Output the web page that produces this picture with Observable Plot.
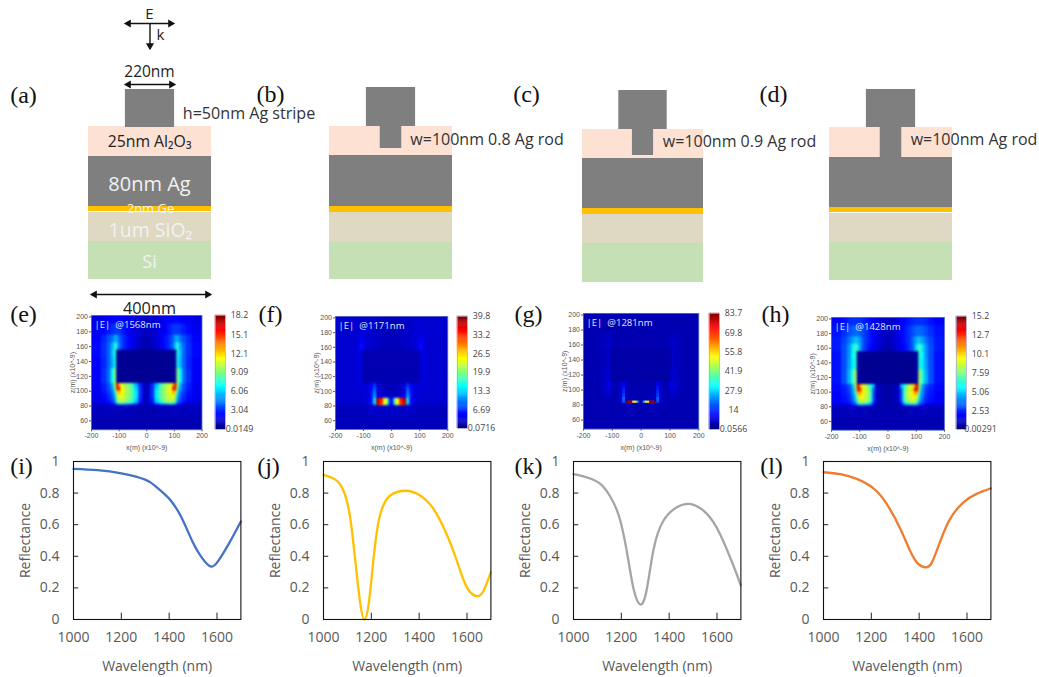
<!DOCTYPE html>
<html><head><meta charset="utf-8">
<script src="https://cdn.jsdelivr.net/npm/d3@7"></script>
<script src="https://cdn.jsdelivr.net/npm/@observablehq/plot@0.6"></script>
<style>html,body{margin:0;background:#fff}#c{position:relative;width:1039px;height:677px;overflow:hidden}svg{position:absolute;overflow:visible;background:transparent}</style>
</head><body><div id="c"></div>
<script>
// ---- reflectance spectra (wavelength nm, reflectance)
const wlI=[1000,1100,1200,1300,1350,1400,1450,1500,1535,1569,1600,1650,1700];
const rI=[.953,.945,.925,.885,.835,.765,.65,.485,.395,.338,.36,.48,.62];
const wlJ=[1000,1050,1085,1111,1132,1153,1171,1190,1209,1230,1251,1279,1342,1404,1460,1515,1557,1599,1641,1669,1700];
const rJ=[.915,.885,.81,.65,.385,.11,0,.11,.38,.62,.725,.785,.815,.785,.70,.54,.375,.205,.148,.18,.30];
const wlK=[1000,1056,1111,1153,1195,1230,1251,1279,1307,1335,1376,1432,1492,1557,1613,1669,1700];
const rK=[.92,.90,.86,.78,.63,.37,.195,.095,.195,.445,.625,.71,.73,.67,.54,.34,.215];
const wlL=[1000,1070,1139,1209,1265,1321,1362,1397,1428,1453,1487,1529,1584,1640,1700];
const rL=[.932,.92,.89,.83,.73,.575,.435,.35,.33,.36,.49,.635,.74,.795,.83];
const wlTicks=[1000,1200,1400,1600];
const rTicks=[0,.2,.4,.6,.8,1];

// ---- |E| field, percent of colour-bar span.
// Columns are |x| bands (maps are mirror-symmetric), rows are z bands, top to bottom.
const xEdges=[0,8,15,30,45,55,65,75,85,95,103,110,118,130,145,165,200];
const zEdges=[202,190,175,165,155,145,130,110,105,100,95,90,85,82,80,65,48];
const fieldE=[
[7,7,8,9,10,10,11,12,12,13,13,13,12,12,11,10],
[6,6,8,9,10,11,12,14,16,18,18,18,17,15,13,11],
[5,5,7,9,11,12,14,16,19,23,28,30,24,20,16,12],
[5,5,6,8,10,12,14,16,19,24,34,42,30,22,17,13],
[2,2,2,2,2,2,2,2,2,2,3,42,32,22,17,13],
[2,2,2,2,2,2,2,2,2,2,3,40,30,22,16,12],
[2,2,2,2,2,2,2,2,2,2,4,52,38,23,17,12],
[6,8,16,30,42,48,52,56,60,72,96,58,30,20,15,11],
[6,8,17,34,44,50,54,58,62,88,85,50,28,20,15,11],
[6,8,17,36,45,50,54,58,62,70,66,38,24,18,14,11],
[6,8,17,36,45,50,54,57,60,62,54,32,22,16,13,11],
[6,8,15,34,43,48,52,55,57,57,48,28,20,15,12,10],
[6,7,13,28,36,42,46,48,50,48,40,22,16,12,10,9],
[5,6,8,12,16,18,20,22,24,22,18,12,10,9,8,8],
[5,5,5,5,6,6,6,6,6,6,6,6,6,6,6,6],
[5,5,5,5,5,5,5,5,5,5,5,5,5,5,5,5]];
const fieldF=[
[6,6,6,7,7,7,7,8,8,8,8,8,8,8,8,8],
[6,6,6,7,7,7,8,8,8,9,9,9,8,8,8,8],
[6,6,6,7,7,7,8,8,9,10,11,10,9,8,8,8],
[6,6,6,6,7,7,8,8,9,11,14,11,9,8,8,8],
[5,5,5,5,5,5,5,5,5,5,8,11,9,8,8,8],
[5,5,5,5,5,5,5,5,5,5,8,10,9,8,8,8],
[5,5,5,5,5,5,5,5,5,5,8,9,9,8,8,8],
[6,6,6,7,9,18,12,10,9,9,9,9,8,8,8,8],
[6,6,6,7,10,22,13,10,9,9,9,8,8,8,8,8],
[6,6,7,8,10,26,14,10,9,8,8,8,8,8,8,8],
[7,7,8,9,12,30,15,10,9,8,8,8,8,8,8,8],
[10,36,62,86,96,38,14,10,9,8,8,8,8,8,8,8],
[10,36,62,86,96,38,14,10,9,8,8,8,8,8,8,8],
[9,30,55,80,90,28,11,9,8,7,7,7,7,7,7,7],
[7,7,7,7,7,8,7,7,6,6,6,6,6,6,6,6],
[6,6,6,6,6,6,6,6,6,6,6,6,6,6,6,6]];
const fieldG=[
[5,5,5,5,5,5,5,5,5,5,5,5,5,5,5,5],
[5,5,5,5,5,5,5,5,5,5,5,5,5,5,5,5],
[5,5,5,5,5,5,5,5,5,6,6,7,6,6,5,5],
[5,5,5,5,5,5,5,5,5,6,7,8,7,6,5,5],
[4,4,4,4,4,4,4,4,4,4,5,8,6,6,5,5],
[4,4,4,4,4,4,4,4,4,4,5,8,6,6,5,5],
[4,4,4,4,4,4,4,4,4,4,6,8,7,6,5,5],
[5,5,5,5,5,12,7,5,5,6,10,10,8,6,5,5],
[5,5,5,5,5,14,7,5,5,6,10,9,8,6,5,5],
[5,5,5,5,5,16,8,6,5,5,8,8,7,6,5,5],
[5,5,5,5,6,18,8,6,5,5,7,7,7,6,5,5],
[5,5,6,6,7,22,9,6,5,5,6,6,6,5,5,5],
[6,30,65,96,100,20,8,6,5,5,5,5,5,5,5,5],
[5,7,11,14,14,8,6,5,5,5,5,5,5,5,5,5],
[5,5,5,5,5,6,5,5,5,5,5,5,5,5,5,5],
[5,5,5,5,5,5,5,5,5,5,5,5,5,5,5,5]];
const fieldH=[
[7,7,8,10,12,13,14,15,16,17,17,17,17,16,14,12],
[6,6,8,10,12,14,16,18,20,22,23,23,22,20,17,14],
[6,6,8,10,12,14,16,18,23,28,31,33,28,24,19,15],
[5,5,7,9,11,13,15,18,22,30,38,46,36,27,20,15],
[2,2,2,2,2,2,2,2,2,3,3,42,38,27,20,14],
[2,2,2,2,2,2,2,2,2,3,3,42,36,28,20,14],
[2,2,2,2,2,2,2,2,2,3,5,55,42,30,20,14],
[4,4,5,7,30,40,50,58,64,76,96,58,30,20,16,13],
[4,4,5,7,22,42,52,60,66,90,86,50,28,19,15,13],
[4,4,5,7,20,44,54,60,64,72,68,42,26,18,15,12],
[4,4,5,7,20,44,54,58,62,64,56,36,24,17,14,12],
[4,4,5,7,20,42,52,56,58,58,48,32,22,16,14,12],
[4,4,5,6,14,32,42,46,48,48,38,24,17,13,11,10],
[4,4,4,5,8,14,18,20,22,22,18,14,12,10,9,9],
[5,5,5,5,5,5,5,6,6,6,6,6,6,6,6,6],
[5,5,5,5,5,5,5,5,5,5,5,5,5,5,5,5]];
const barE=["18.2","15.1","12.1","9.09","6.06","3.04","0.0149"];
const barF=["39.8","33.2","26.5","19.9","13.3","6.69","0.0716"];
const barG=["83.7","69.8","55.8","41.9","27.9","14","0.0566"];
const barH=["15.2","12.7","10.1","7.59","5.06","2.53","0.00291"];
const mapTitles=["|E|  @1568nm","|E|  @1171nm","|E|  @1281nm","|E|  @1428nm"];
const mapXTicks=[-200,-100,0,100,200];
const mapZTicks=[60,80,100,120,140,160,180,200];
const jetStops=[0,.125,.375,.625,.875,1];
const jetColors=["#00007f","#0000ff","#00ffff","#ffff00","#ff0000","#7f0000"];

// ---- device stacks: drawn layer heights and drawn widths
const layerNames=["Al2O3","Ag","Ge","gap","SiO2","Si"];
const layerFills=["#fde1d3","#7f7f7f","#ffc000","#ffffff","#dfd8c2","#c5e0b4"];
const stackA=[30,50,5,1,29,38];
const stackB=[29,51,6,0,30,37];
const stackC=[29,50,6,0,29,39];
const stackD=[30,50,5,1,29,38];
const stripeHeights=[37,39,39,38];
const stripeDrawnWidth=160, rodDrawnWidth=70;
const rodDepths=[0,22,26,30];

// ---- text
const tags=["(a)","(b)","(c)","(d)","(e)","(f)","(g)","(h)","(i)","(j)","(k)","(l)"];
const tagX=[23,270,526,773,23,270,528,775,21,268,528,771];
const tagY=[95,94,94,94,314,314,314,314,466,466,466,466];
const noteText=["E","k","220nm","h=50nm Ag stripe","25nm Al₂O₃","80nm Ag","2nm Ge","1um SiO₂","Si","400nm","w=100nm 0.8 Ag rod","w=100nm 0.9 Ag rod","w=100nm Ag rod"];
const noteX=[149,160,149,248.5,149,149,150,150,149,149,486.5,739,973.5];
const noteY=[14,35,72,113,141,184,208,230,262,308,139,141,139];
const noteSize=[15,15,15.5,16.1,15.8,20,13,19.5,18,16.3,16,16,16];
const noteFill=["#222","#222","#222","#333","#222","#f2f2f2","#f2f2f2","#f2f2f2","#f2f2f2","#222","#333","#333","#333"];

const root=document.getElementById("c");
const place=(el,left,top)=>{el.style.position="absolute";el.style.left=left+"px";el.style.top=top+"px";root.appendChild(el);};
const sans='"Open Sans",sans-serif';

// ---------- stacks
function drawStack(left,top,width,layers,rodDepth,stripeH){
  const total=stripeH+d3.sum(layers);
  let y=stripeH;
  const rows=layers.map((h,i)=>{const r={name:layerNames[i],fill:layerFills[i],y1:y,y2:y+h};y+=h;return r;}).filter(r=>r.y2>r.y1);
  const metal=[{x1:-stripeDrawnWidth/2,x2:stripeDrawnWidth/2,y1:0,y2:stripeH+(rodDepth?0:1)}];
  if(rodDepth) metal.push({x1:-rodDrawnWidth/2,x2:rodDrawnWidth/2,y1:stripeH-0.5,y2:stripeH+rodDepth});
  const p=Plot.plot({width,height:total,margin:0,
    x:{domain:[-200,200],axis:null},y:{domain:[total,0],axis:null},
    marks:[
      Plot.rect(rows,{x1:-200,x2:200,y1:"y1",y2:"y2",fill:"fill"}),
      Plot.rect(metal,{x1:"x1",x2:"x2",y1:"y1",y2:"y2",fill:layerFills[1]})
    ]});
  place(p,left,top);
}
drawStack(88,89,123,stackA,rodDepths[0],stripeHeights[0]);
drawStack(329,87,123,stackB,rodDepths[1],stripeHeights[1]);
drawStack(582,90,121,stackC,rodDepths[2],stripeHeights[2]);
drawStack(829,89,123,stackD,rodDepths[3],stripeHeights[3]);

// ---------- field maps
function jetScale(max){return {type:"linear",domain:jetStops.map(t=>t*max),range:jetColors,clamp:true};}
function drawMap(left,top,w,h,field,labels,title,blur){
  const max=+labels[0];
  const cells=[];
  field.forEach((row,r)=>row.forEach((v,c)=>{
    for(const s of [-1,1]){
      const a=s*xEdges[c],b=s*xEdges[c+1];
      cells.push({x1:Math.min(a,b),x2:Math.max(a,b),z1:zEdges[r+1],z2:zEdges[r],v:v/100*max});
    }
  }));
  const mL=30,mB=22,mT=2,mR=8;
  const p=Plot.plot({width:w+mL+mR,height:h+mT+mB,marginLeft:mL,marginRight:mR,marginTop:mT,marginBottom:mB,
    style:{fontFamily:"Liberation Sans,sans-serif",background:"transparent"},
    x:{domain:[-200,200]},y:{domain:[48,202]},color:jetScale(max),
    marks:[
      Plot.frame({fill:"#00109a",stroke:"none"}),
      Plot.rect(cells,{x1:"x1",x2:"x2",y1:"z1",y2:"z2",fill:"v",inset:-0.25,clip:"frame",imageFilter:`blur(${blur}px)`}),
      Plot.frame({stroke:"#5a6fd0",strokeWidth:.8}),
      Plot.axisX({ticks:mapXTicks,tickSize:2,tickPadding:1.5,fontSize:7,color:"#555",tickFormat:d=>String(d),label:"x(m) (x10^-9)",labelAnchor:"center",labelArrow:"none",labelOffset:20.5}),
      Plot.axisY({ticks:mapZTicks,tickSize:2,tickPadding:1.5,fontSize:7,color:"#555",label:"z(m) (x10^-9)",labelAnchor:"center",labelArrow:"none",labelOffset:21}),
      Plot.text([title],{frameAnchor:"top-left",dx:3,dy:6,fontSize:9.6,fill:"#dfe6f5",fontFamily:sans})
    ]});
  place(p,left-mL,top-mT);
}
function drawBar(left,top,w,h,labels){
  const max=+labels[0],min=+labels[labels.length-1];
  const steps=d3.range(0,120).map(i=>({a:min+(max-min)*i/120,b:min+(max-min)*(i+1)/120}));
  const p=Plot.plot({width:w+34,height:h+8,marginLeft:0,marginRight:34,marginTop:4,marginBottom:4,
    style:{fontFamily:sans,background:"transparent"},
    x:{domain:[0,1],axis:null},y:{domain:[min,max],axis:null},color:jetScale(max),
    marks:[
      Plot.rect(steps,{x1:0,x2:1,y1:"a",y2:"b",fill:d=>(d.a+d.b)/2,inset:-0.2}),
      Plot.frame({stroke:"#a9a9d6",strokeWidth:.7}),
      Plot.text(labels,{x:1,y:d=>+d,text:d=>d,dx:14,fontSize:8.8,fill:"#444",textAnchor:"middle"})
    ]});
  place(p,left,top-4);
}
drawMap(90.7,315,110.5,114.3,fieldE,barE,mapTitles[0],1);
drawMap(334.7,316,112.3,113,fieldF,barF,mapTitles[1],0.8);
drawMap(582.7,312.7,115.3,115.6,fieldG,barG,mapTitles[2],0.4);
drawMap(831,316.7,113,112.7,fieldH,barH,mapTitles[3],1);
drawBar(215,315,10,114,barE);
drawBar(457,316,10,112,barF);
drawBar(709,313,10,116,barG);
drawBar(956,316,10,113,barH);

// ---------- spectra
function drawSpectrum(left,wl,r,color){
  const mL=60,mB=58,mT=6,mR=8,w=167.4,h=158;
  const rows=wl.map((x,i)=>({x,y:r[i]}));
  const p=Plot.plot({width:w+mL+mR,height:h+mT+mB,marginLeft:mL,marginRight:mR,marginTop:mT,marginBottom:mB,
    style:{fontFamily:sans,background:"transparent"},
    x:{domain:[1000,1700]},y:{domain:[0,1]},
    marks:[
      Plot.line(rows,{x:"x",y:"y",stroke:color,strokeWidth:2.3,curve:"natural"}),
      Plot.frame({stroke:"#111",strokeWidth:1.1}),
      Plot.ruleX(wlTicks.slice(1),{y1:0,y2:.04,stroke:"#222",strokeWidth:1}),
      Plot.ruleY(rTicks.slice(1,5),{x1:1000,x2:1022,stroke:"#222",strokeWidth:1}),
      Plot.axisX({ticks:wlTicks,tickSize:0,tickPadding:13,fontSize:14,color:"#595959",tickFormat:d=>String(d),label:"Wavelength (nm)",labelAnchor:"center",labelArrow:"none",labelOffset:52}),
      Plot.axisY({ticks:rTicks,tickSize:0,tickPadding:14,fontSize:14,color:"#595959",tickFormat:d=>String(d),label:"Reflectance",labelAnchor:"center",labelArrow:"none",labelOffset:53})
    ]});
  place(p,left-mL,461-mT);
}
drawSpectrum(73.3,wlI,rI,"#4472c4");
drawSpectrum(323.3,wlJ,rJ,"#ffc000");
drawSpectrum(572.7,wlK,rK,"#a5a5a5");
drawSpectrum(822.7,wlL,rL,"#ed7d31");

// ---------- text and dimension arrows (page-sized overlay, one unit = one pixel)
const tagRows=tags.map((t,i)=>({t,x:tagX[i],y:tagY[i]}));
const noteRows=noteText.map((t,i)=>({t,x:noteX[i],y:noteY[i],s:noteSize[i],c:noteFill[i]}));
const shafts=[{x1:128,x2:170,y1:23,y2:23},{x1:149.5,x2:149.5,y1:23,y2:44},{x1:128,x2:171,y1:84,y2:84},{x1:94,x2:207,y1:294,y2:294}];
const heads=[{x:128,y:23,r:-90},{x:170,y:23,r:90},{x:149.5,y:45,r:180},{x:128,y:84,r:-90},{x:171,y:84,r:90},{x:94,y:294,r:-90},{x:207,y:294,r:90}];
const overlay=Plot.plot({width:1039,height:677,margin:0,
  style:{background:"transparent"},
  x:{domain:[0,1039],axis:null},y:{domain:[677,0],axis:null},
  marks:[
    Plot.link(shafts,{x1:"x1",x2:"x2",y1:"y1",y2:"y2",stroke:"#111",strokeWidth:1.4}),
    Plot.dot(heads,{x:"x",y:"y",symbol:"triangle",rotate:"r",r:3,fill:"#111",stroke:"none"}),
    Plot.text(tagRows,{x:"x",y:"y",text:"t",fontSize:24,fill:"#111",fontFamily:'"Liberation Serif",serif',textAnchor:"middle"}),
    Plot.text(noteRows,{x:"x",y:"y",text:"t",fontSize:"s",fill:"c",fontFamily:sans,textAnchor:"middle"})
  ]});
place(overlay,0,0);
</script></body></html>
